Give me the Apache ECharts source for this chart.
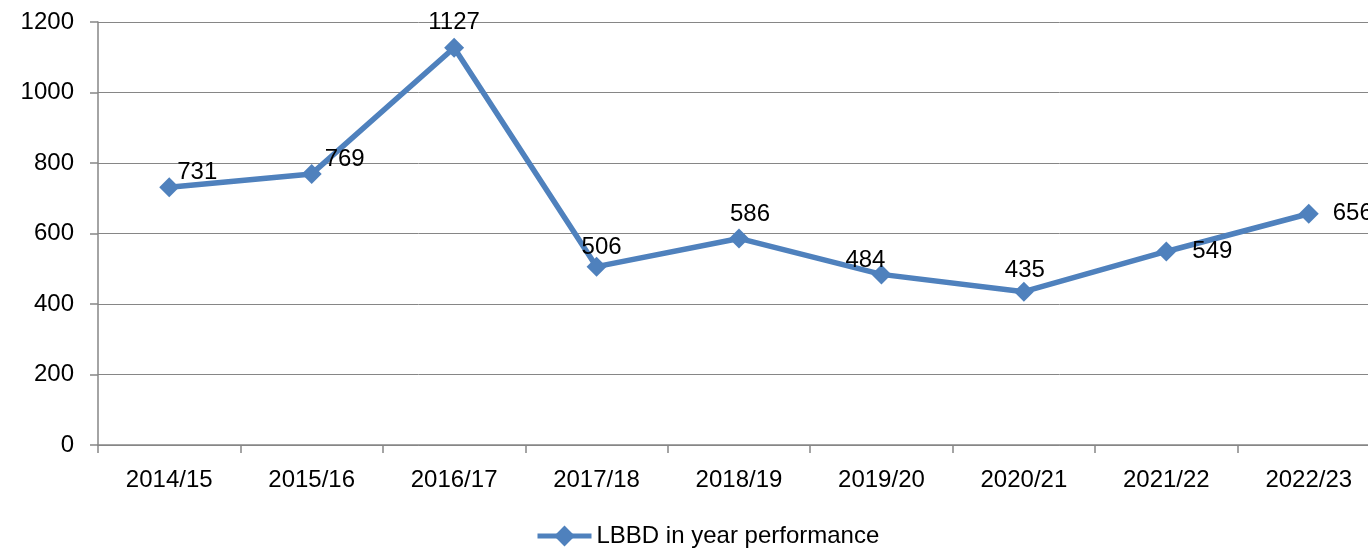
<!DOCTYPE html>
<html>
<head>
<meta charset="utf-8">
<script src="https://cdn.jsdelivr.net/npm/echarts@6/dist/echarts.min.js"></script>
<style>
  html, body { margin: 0; padding: 0; background: #fff; overflow: hidden; }
  #chart { width: 1380px; height: 553px; }
</style>
</head>
<body>
<div id="chart"></div>
<script>
// years and in-year values
const years = ['2014/15', '2015/16', '2016/17', '2017/18', '2018/19', '2019/20', '2020/21', '2021/22', '2022/23'];
const performance = [731, 769, 1127, 506, 586, 484, 435, 549, 656];
const yTicks = [0, 200, 400, 600, 800, 1000, 1200];

// where each data label sits relative to its point (px)
const labelOffsets = [[28, -15], [33, -15], [0, -25], [5, -19], [11, -24], [-16, -14], [1, -21], [46, 0], [44, 0]];

// the plot runs a little past the right edge of the window, like the original
const chart = echarts.init(document.getElementById('chart'));
const font = 'Liberation Sans';
const blue = '#4f81bd';
const grey = '#868686';

chart.setOption({
  animation: false,
  textStyle: { fontFamily: font },
  grid: { left: 98, right: 0, top: 22, bottom: 108 },
  legend: {
    bottom: 0,
    left: 530,
    itemWidth: 54,
    itemHeight: 26,
    lineStyle: { width: 5 },
    textStyle: { fontSize: 24, color: '#000', fontFamily: font },
    data: ['LBBD in year performance']
  },
  xAxis: {
    type: 'category',
    data: years,
    boundaryGap: true,
    axisLine: { lineStyle: { color: grey, width: 1.5 } },
    axisTick: { show: true, length: 8, lineStyle: { color: grey, width: 1.5 } },
    axisLabel: { fontSize: 24, color: '#000', margin: 23 }
  },
  yAxis: {
    type: 'value',
    min: yTicks[0],
    max: yTicks[yTicks.length - 1],
    interval: 200,
    axisLine: { show: true, lineStyle: { color: grey, width: 1.5 } },
    axisTick: { show: true, length: 8, lineStyle: { color: grey, width: 1.5 } },
    axisLabel: { fontSize: 24, color: '#000', margin: 24, formatter: v => String(v) },
    splitLine: { lineStyle: { color: grey, width: 1 } }
  },
  series: [{
    name: 'LBBD in year performance',
    type: 'line',
    data: performance.map((v, i) => ({
      value: v,
      label: { offset: labelOffsets[i] }
    })),
    symbol: 'diamond',
    symbolSize: 20,
    lineStyle: { color: blue, width: 5.5 },
    itemStyle: { color: blue },
    label: {
      show: true,
      position: 'inside',
      fontSize: 24,
      color: '#000',
      fontFamily: font
    }
  }]
});
</script>
</body>
</html>
